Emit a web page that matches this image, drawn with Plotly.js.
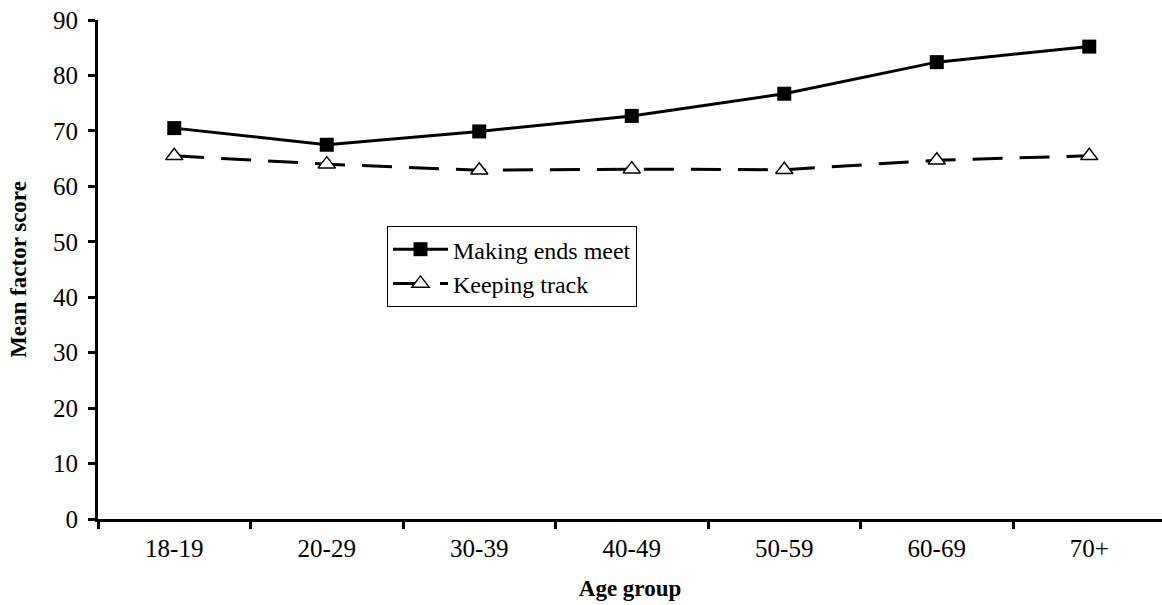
<!DOCTYPE html>
<html>
<head>
<meta charset="utf-8">
<script src="https://cdn.plot.ly/plotly-3.0.1.min.js"></script>
<style>html,body{margin:0;padding:0;background:#fff;}#chart{width:1162px;height:605px;}</style>
</head>
<body>
<div id="chart"></div>
<script>
var ageGroups = ["18-19", "20-29", "30-39", "40-49", "50-59", "60-69", "70+"];
var makingEndsMeet = [70.5, 67.5, 69.9, 72.7, 76.7, 82.4, 85.2];
var keepingTrack = [65.5, 64.0, 62.9, 63.1, 63.0, 64.7, 65.5];
var yTicks = [0, 10, 20, 30, 40, 50, 60, 70, 80, 90];

var serif = "'Liberation Serif', 'Times New Roman', serif";

var traces = [
  {
    x: ageGroups, y: makingEndsMeet, name: "Making ends meet",
    type: "scatter", mode: "lines+markers",
    line: {color: "#000", width: 3},
    marker: {symbol: "square", size: 14, color: "#000", line: {color: "#000", width: 0}}
  },
  {
    x: ageGroups, y: keepingTrack, name: "Keeping track",
    type: "scatter", mode: "lines+markers",
    line: {color: "#000", width: 3, dash: "30px,17px"},
    marker: {symbol: "triangle-up", size: 15, color: "#fff", line: {color: "#000", width: 1.5}}
  }
];

var layout = {
  width: 1162, height: 605,
  margin: {l: 98, r: 0, t: 20, b: 86},
  paper_bgcolor: "#fff", plot_bgcolor: "#fff",
  font: {family: serif, color: "#000", size: 24},
  showlegend: true,
  legend: {
    x: 0.2716, y: 0.587, xanchor: "left", yanchor: "top",
    bgcolor: "#fff", bordercolor: "#000", borderwidth: 1,
    font: {family: serif, size: 24, color: "#000"},
    tracegroupgap: 0, itemwidth: 55
  },
  xaxis: {
    type: "category", range: [-0.5, 6.477],
    showgrid: false, zeroline: false,
    showline: true, linecolor: "#000", linewidth: 3,
    ticks: "outside", tickson: "boundaries", ticklen: 7, tickwidth: 3, tickcolor: "#000",
    ticklabelstandoff: 5,
    tickfont: {family: serif, size: 25, color: "#000"},
    title: {text: "<b>Age group</b>", font: {family: serif, size: 23, color: "#000"}, standoff: 19},
    fixedrange: true
  },
  yaxis: {
    range: [0, 90], tickvals: yTicks, ticktext: yTicks.map(String),
    showgrid: false, zeroline: false,
    showline: true, linecolor: "#000", linewidth: 3,
    ticks: "outside", ticklen: 7, tickwidth: 3, tickcolor: "#000",
    ticklabelstandoff: 5,
    tickfont: {family: serif, size: 25, color: "#000"},
    title: {text: "<b>Mean factor score</b>", font: {family: serif, size: 23, color: "#000"}, standoff: 20},
    fixedrange: true
  }
};

Plotly.newPlot("chart", traces, layout, {displayModeBar: false, staticPlot: true});
</script>
</body>
</html>
